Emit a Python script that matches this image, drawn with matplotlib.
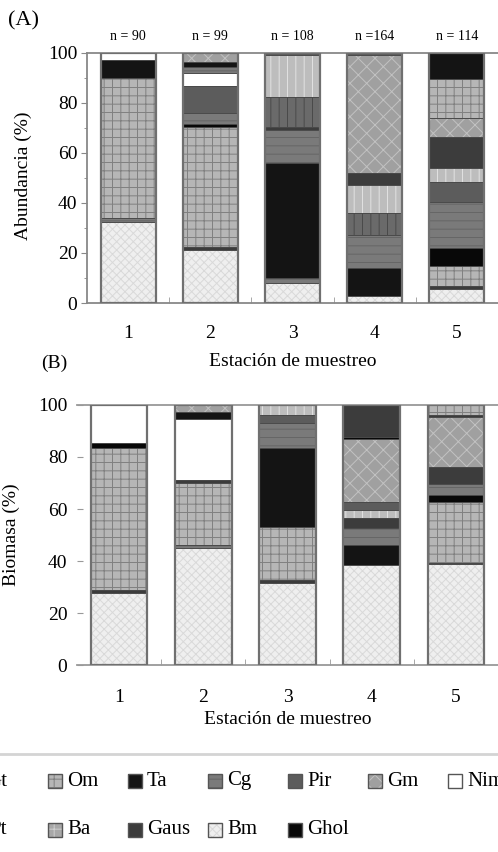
import matplotlib
matplotlib.use('Agg')
import matplotlib.pyplot as plt
from matplotlib.patches import Rectangle
from matplotlib.lines import Line2D

plt.rcParams['font.family'] = ['Liberation Serif', 'DejaVu Serif']
plt.rcParams['hatch.linewidth'] = 0.7

# data (segments listed bottom -> top, % of total)
stations = [1, 2, 3, 4, 5]
n_labels = ['n = 90', 'n = 99', 'n = 108', 'n =164', 'n = 114']

abund_1 = [('Bm', 32.2), ('Cg', 1.9), ('Om', 55.7), ('Ta', 7.3), ('Nim', 2.9)]
abund_2 = [('Bm', 21.0), ('Gaus', 1.3), ('Om', 48.0), ('Ghol', 1.0), ('Cg', 4.5),
           ('Pir', 11.0), ('Nim', 5.0), ('Cg', 2.6), ('Ta', 2.0), ('Gm', 3.6)]
abund_3 = [('Bm', 8.0), ('Cg', 2.0), ('Ta', 45.8), ('Cg', 13.2), ('Gaus', 1.4),
           ('Pt', 12.0), ('Gt', 16.6), ('Pir', 1.0)]
abund_4 = [('Bm', 2.7), ('Ta', 11.2), ('Cg', 13.3), ('Pt', 8.7), ('Gt', 11.2),
           ('Gaus', 4.7), ('Gm', 47.2), ('Pir', 1.0)]
abund_5 = [('Bm', 5.6), ('Gaus', 1.0), ('Om', 8.0), ('Ghol', 7.3), ('Cg', 18.6),
           ('Pir', 8.0), ('Gt', 5.3), ('Gaus', 12.6), ('Gm', 7.3), ('Om', 15.9),
           ('Ta', 10.4)]

biom_1 = [('Bm', 27.6), ('Gaus', 1.2), ('Om', 54.5), ('Ghol', 2.0), ('Nim', 14.7)]
biom_2 = [('Bm', 44.9), ('Cg', 1.3), ('Om', 23.7), ('Gaus', 1.3), ('Nim', 23.3),
          ('Ta', 2.9), ('Gm', 2.6)]
biom_3 = [('Bm', 31.4), ('Gaus', 1.3), ('Om', 20.5), ('Ta', 30.1), ('Cg', 9.7),
          ('Pir', 3.2), ('Gt', 3.8)]
biom_4 = [('Bm', 38.5), ('Ta', 7.7), ('Cg', 6.4), ('Gaus', 3.8), ('Gt', 3.2),
          ('Pir', 3.2), ('Gm', 24.0), ('Ghol', 1.0), ('Gaus', 12.2)]
biom_5 = [('Bm', 38.8), ('Gaus', 0.6), ('Om', 23.4), ('Ghol', 2.5), ('Cg', 4.5),
          ('Gaus', 6.4), ('Gm', 19.3), ('Gaus', 0.7), ('Om', 3.8)]

legend_row1 = ['Gt', 'Om', 'Ta', 'Cg', 'Pir', 'Gm', 'Nim']
legend_row2 = ['Pt', 'Ba', 'Gaus', 'Bm', 'Ghol']

# face colour, hatch, hatch colour
styles = {
    'Bm': ('#efefef', 'xxxx', '#d9d9d9'),
    'Om': ('#b6b6b6', '++', '#808080'),
    'Ta': ('#141414', '', None),
    'Cg': ('#7a7a7a', '--', '#666666'),
    'Pir': ('#5c5c5c', '', None),
    'Gm': ('#a0a0a0', 'xx', '#c2c2c2'),
    'Nim': ('#ffffff', '', None),
    'Ba': ('#a8a8a8', '++', '#cfcfcf'),
    'Gaus': ('#3c3c3c', '', None),
    'Ghol': ('#080808', '', None),
    'Gt': ('#bdbdbd', '||', '#e2e2e2'),
    'Pt': ('#6a6a6a', '||', '#4a4a4a'),
}

W = 0.67


def draw_stack(ax, x, segs):
    bottom = 0
    for sp, val in segs:
        face, hatch, hcol = styles[sp]
        ax.bar(x, val, bottom=bottom, width=W, color=face, hatch=hatch or None,
               edgecolor=hcol or face, linewidth=0, zorder=2)
        ax.bar(x, val, bottom=bottom, width=W, fill=False, edgecolor='#4a4a4a',
               linewidth=0.6, zorder=3)
        bottom += val
    ax.bar(x, bottom, width=W, fill=False, edgecolor='#707070', linewidth=1.6, zorder=4)


def fx(px):
    return px / 498


def fy(py):
    return 1 - py / 852


fig = plt.figure(figsize=(4.98, 8.52), dpi=100)

# (A) abundance
axA = fig.add_axes([fx(87), fy(303), fx(411), 250.5 / 852])
for st, segs in zip(stations, [abund_1, abund_2, abund_3, abund_4, abund_5]):
    draw_stack(axA, st, segs)
axA.set_xlim(0.5, 5.5)
axA.set_ylim(0, 100)
axA.set_yticks(range(0, 101, 20))
axA.set_yticks(range(10, 100, 20), minor=True)
axA.set_xticks(stations)
axA.set_xticks([1.5, 2.5, 3.5, 4.5], minor=True)
axA.tick_params(axis='x', which='major', length=0, pad=16, labelsize=14)
axA.tick_params(axis='x', which='minor', direction='in', length=4, color='#999999')
axA.tick_params(axis='y', which='major', length=4, color='#888888', labelsize=14, pad=3)
axA.tick_params(axis='y', which='minor', length=2.5, color='#888888')
axA.spines['right'].set_visible(False)
for s in ['left', 'bottom', 'top']:
    axA.spines[s].set_color('#888888')
    axA.spines[s].set_linewidth(1.3)
for st, lab in zip(stations, n_labels):
    axA.text(st, 106.5, lab, ha='center', va='center', fontsize=10, clip_on=False)

# (B) biomass
axB = fig.add_axes([fx(77), fy(665), fx(421), 260 / 852])
for st, segs in zip(stations, [biom_1, biom_2, biom_3, biom_4, biom_5]):
    draw_stack(axB, st, segs)
axB.set_xlim(0.5, 5.5)
axB.set_ylim(0, 100)
axB.set_yticks(range(0, 101, 20))
axB.set_xticks(stations)
axB.set_xticks([1.5, 2.5, 3.5, 4.5], minor=True)
axB.tick_params(axis='x', which='major', length=0, pad=17, labelsize=14)
axB.tick_params(axis='x', which='minor', direction='in', length=4, color='#999999')
axB.tick_params(axis='y', which='major', direction='in', length=4, color='#999999',
                labelsize=14, pad=7)
axB.spines['right'].set_visible(False)
axB.spines['left'].set_visible(False)
for s in ['bottom', 'top']:
    axB.spines[s].set_color('#999999')
    axB.spines[s].set_linewidth(1.3)

fig.text(fx(23), fy(21), '(A)', fontsize=16, ha='center', va='center')
fig.text(fx(23), fy(176), 'Abundancia (%)', fontsize=14, rotation=90, ha='center', va='center')
fig.text(fx(293), fy(362), 'Estación de muestreo', fontsize=14, ha='center', va='center')
fig.text(fx(54), fy(363), '(B)', fontsize=14, ha='center', va='center')
fig.text(fx(11), fy(535), 'Biomasa (%)', fontsize=14, rotation=90, ha='center', va='center')
fig.text(fx(288), fy(720), 'Estación de muestreo', fontsize=14, ha='center', va='center')

# legend strip (first column runs off the left edge, as in the source)
fig.add_artist(Line2D([0, 1], [fy(754), fy(754)], color='#d4d4d4', linewidth=2))
for row, yc in [(legend_row1, 781), (legend_row2, 830)]:
    for k, sp in enumerate(row):
        face, hatch, hcol = styles[sp]
        if k == 0:
            # only the tail of this entry is inside the figure
            fig.text(fx(7), fy(yc), sp, fontsize=15, ha='right', va='center')
            continue
        x0 = -32 + 80 * k
        fig.add_artist(Rectangle((fx(x0), fy(yc + 7)), fx(14), 14 / 852, facecolor=face,
                                 hatch=hatch or None, edgecolor=hcol or face, linewidth=0))
        fig.add_artist(Rectangle((fx(x0), fy(yc + 7)), fx(14), 14 / 852, fill=False,
                                 edgecolor='#555555', linewidth=1.0))
        fig.text(fx(x0 + 19), fy(yc), sp, fontsize=15, ha='left', va='center')

fig.savefig('out.png', dpi=100)
